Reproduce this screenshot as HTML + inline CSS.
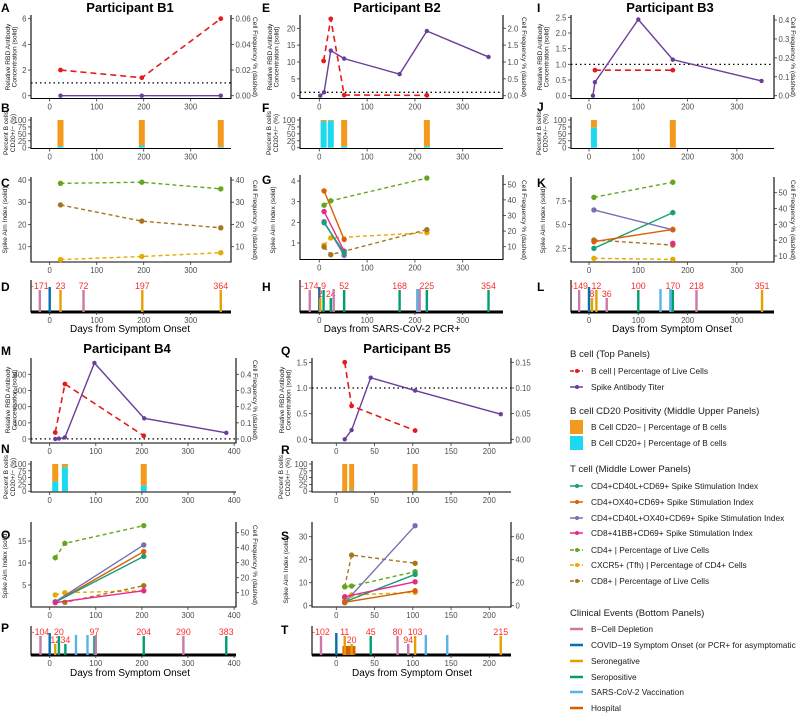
<!DOCTYPE html>
<html><head><meta charset="utf-8"><style>
html,body{margin:0;padding:0;background:#fff}
svg{display:block;font-family:"Liberation Sans",sans-serif}
</style></head><body>
<svg id="chart" width="796" height="713" xmlns="http://www.w3.org/2000/svg">
<rect width="796" height="713" fill="#fff"/>
<g font-size="8.3" fill="#1a1a1a">
<text x="570" y="357" font-size="9.6">B cell (Top Panels)</text>
<g><line x1="570" y1="371" x2="583" y2="371" stroke="#e41a1c" stroke-width="1.5" stroke-dasharray="4,2"/><circle cx="577" cy="371" r="2" fill="#e41a1c"/><text x="591" y="374">B cell | Percentage of Live Cells</text></g>
<g><line x1="570" y1="387" x2="583" y2="387" stroke="#6a3d9a" stroke-width="1.5"/><circle cx="577" cy="387" r="2" fill="#6a3d9a"/><text x="591" y="390">Spike Antibody Titer</text></g>
<text x="570" y="414" font-size="9.6">B cell CD20 Positivity (Middle Upper Panels)</text>
<g><rect x="570" y="420" width="13" height="14" fill="#f39a1e"/><text x="591" y="430">B Cell CD20− | Percentage of B cells</text></g>
<g><rect x="570" y="436" width="13" height="14" fill="#1ed8f0"/><text x="591" y="446">B Cell CD20+ | Percentage of B cells</text></g>
<text x="570" y="472" font-size="9.6">T cell (Middle Lower Panels)</text>
<g><line x1="570" y1="486" x2="583" y2="486" stroke="#1b9e77" stroke-width="1.5"/><circle cx="577" cy="486" r="2" fill="#1b9e77"/><text x="591" y="489">CD4+CD40L+CD69+ Spike Stimulation Index</text></g>
<g><line x1="570" y1="502" x2="583" y2="502" stroke="#d95f02" stroke-width="1.5"/><circle cx="577" cy="502" r="2" fill="#d95f02"/><text x="591" y="505">CD4+OX40+CD69+ Spike Stimulation Index</text></g>
<g><line x1="570" y1="518" x2="583" y2="518" stroke="#7570b3" stroke-width="1.5"/><circle cx="577" cy="518" r="2" fill="#7570b3"/><text x="591" y="521">CD4+CD40L+OX40+CD69+ Spike Stimulation Index</text></g>
<g><line x1="570" y1="533" x2="583" y2="533" stroke="#e7298a" stroke-width="1.5"/><circle cx="577" cy="533" r="2" fill="#e7298a"/><text x="591" y="536">CD8+41BB+CD69+ Spike Stimulation Index</text></g>
<g><line x1="570" y1="550" x2="583" y2="550" stroke="#66a61e" stroke-width="1.5" stroke-dasharray="4,2"/><circle cx="577" cy="550" r="2" fill="#66a61e"/><text x="591" y="553">CD4+ | Percentage of Live Cells</text></g>
<g><line x1="570" y1="565" x2="583" y2="565" stroke="#e6ab02" stroke-width="1.5" stroke-dasharray="4,2"/><circle cx="577" cy="565" r="2" fill="#e6ab02"/><text x="591" y="568">CXCR5+ (Tfh) | Percentage of CD4+ Cells</text></g>
<g><line x1="570" y1="581" x2="583" y2="581" stroke="#a6761d" stroke-width="1.5" stroke-dasharray="4,2"/><circle cx="577" cy="581" r="2" fill="#a6761d"/><text x="591" y="584">CD8+ | Percentage of Live Cells</text></g>
<text x="570" y="616" font-size="9.6">Clinical Events (Bottom Panels)</text>
<g><line x1="570" y1="629" x2="583" y2="629" stroke="#cc79a7" stroke-width="2.5"/><text x="591" y="632">B−Cell Depletion</text></g>
<g><line x1="570" y1="645" x2="583" y2="645" stroke="#0072b2" stroke-width="2.5"/><text x="591" y="648">COVID−19 Symptom Onset (or PCR+ for asymptomatic)</text></g>
<g><line x1="570" y1="661" x2="583" y2="661" stroke="#e69f00" stroke-width="2.5"/><text x="591" y="664">Seronegative</text></g>
<g><line x1="570" y1="677" x2="583" y2="677" stroke="#009e73" stroke-width="2.5"/><text x="591" y="680">Seropositive</text></g>
<g><line x1="570" y1="692" x2="583" y2="692" stroke="#56b4e9" stroke-width="2.5"/><text x="591" y="695">SARS-CoV-2 Vaccination</text></g>
<g><line x1="570" y1="708" x2="583" y2="708" stroke="#d55e00" stroke-width="2.5"/><text x="591" y="711">Hospital</text></g>
</g>
</svg>
<script>
// ===== DATA =====
// Participant B1
const b1RedDays=[23,196,364], b1RedVals=[0.02,0.014,0.06];
const b1TiterDays=[23,196,364], b1TiterVals=[0,0,0];
const b1BarDays=[23,196,364], b1Cd20Pos=[5,8,3];
const b1Cd4PctDays=[23,196,364], b1Cd4Pct=[38.5,39,36];
const b1Cd8PctDays=[23,196,364], b1Cd8Pct=[28.8,21.5,18.5];
const b1Cxcr5Days=[23,196,364], b1Cxcr5=[4.2,5.6,7.3];
const b1EvDays=[-21,0,23,72,197,364];
const b1EvTypes=['dep','onset','neg','dep','neg','neg'];
const b1EvLabels=['-171','','23','72','197','364'];
// Participant B2
const b2RedDays=[9,24,52,225], b2RedVals=[1.03,2.28,0.02,0.01];
const b2TiterDays=[2,10,24,52,168,225,354], b2TiterVals=[0,1,13.4,11,6.4,19.2,11.5];
const b2BarDays=[9,24,52,225], b2Cd20Pos=[95,97,5,5];
const b2Ox40Days=[10,52], b2Ox40=[3.52,1.17];
const b2Cd8bbDays=[10,52], b2Cd8bb=[2.52,0.61];
const b2BothDays=[10,52], b2Both=[2.03,0.4];
const b2Cd40lDays=[10,52], b2Cd40l=[1.98,0.53];
const b2Cd4PctDays=[10,24,225], b2Cd4Pct=[36.6,39.4,54];
const b2Cxcr5Days=[10,24,225], b2Cxcr5=[11,15.6,19];
const b2Cd8PctDays=[10,24,225], b2Cd8Pct=[9.8,4.9,20.9];
const b2EvDays=[-20,0,2,9,24,30,52,168,205,210,225,354];
const b2EvTypes=['dep','onset','neg','pos','pos','dep','pos','pos','vac','dep','pos','pos'];
const b2EvLabels=['-174','','2','9','24','','52','168','','','225','354'];
// Participant B3
const b3RedDays=[12,170], b3RedVals=[0.135,0.135];
const b3TiterDays=[8,12,100,170,350], b3TiterVals=[0,0.43,2.43,1.15,0.47];
const b3BarDays=[10,170], b3Cd20Pos=[72,0];
const b3BothDays=[10,170], b3Both=[6.55,4.45];
const b3Cd40lDays=[10,170], b3Cd40l=[2.5,6.27];
const b3Ox40Days=[10,170], b3Ox40=[3.2,4.5];
const b3Cd8bbDays=[170], b3Cd8bb=[3.03];
const b3Cd4PctDays=[10,170], b3Cd4Pct=[47.1,56.6];
const b3Cd8PctDays=[10,170], b3Cd8Pct=[20.1,16.9];
const b3Cxcr5Days=[10,170], b3Cxcr5=[8.5,7.9];
const b3EvDays=[-20,0,6,15,36,100,145,165,170,218,351];
const b3EvTypes=['dep','onset','neg','neg','dep','pos','vac','vac','pos','dep','neg'];
const b3EvLabels=['-149','','8','12','36','100','','','170','218','351'];
// Participant B4
const b4RedDays=[12,33,204], b4RedVals=[0.04,0.34,0.02];
const b4TiterDays=[12,20,33,97,205,383], b4TiterVals=[0,3,10,470,128,38];
const b4BarDays=[12,33,204], b4Cd20Pos=[35,88,20];
const b4BothDays=[12,204], b4Both=[1.2,14.1];
const b4Ox40Days=[12,204], b4Ox40=[1.1,12.6];
const b4Cd40lDays=[12,204], b4Cd40l=[1.1,11.5];
const b4Cd8bbDays=[12,204], b4Cd8bb=[1.0,3.7];
const b4Cd4PctDays=[12,33,204], b4Cd4Pct=[33.3,42.9,54.7];
const b4Cxcr5Days=[12,33,204], b4Cxcr5=[8.5,10,11.3];
const b4Cd8PctDays=[12,33,204], b4Cd8Pct=[3.6,3.6,14.7];
const b4EvDays=[-20,0,12,20,34,57,82,97,100,204,290,383];
const b4EvTypes=['dep','onset','neg','pos','pos','vac','vac','pos','dep','pos','dep','pos'];
const b4EvLabels=['-104','','12','20','34','','','97','','204','290','383'];
// Participant B5
const b5RedDays=[11,20,103], b5RedVals=[0.15,0.065,0.017];
const b5TiterDays=[11,20,45,103,215], b5TiterVals=[0,0.18,1.2,0.95,0.49];
const b5BarDays=[11,20,103], b5Cd20Pos=[0,3,2];
const b5BothDays=[11,103], b5Both=[1.3,34.8];
const b5Cd40lDays=[11,103], b5Cd40l=[1.7,13.6];
const b5Cd8bbDays=[11,103], b5Cd8bb=[3.9,10.4];
const b5Ox40Days=[11,103], b5Ox40=[1.5,6.5];
const b5Cd8PctDays=[11,20,103], b5Cd8Pct=[16.5,44,36.9];
const b5Cd4PctDays=[11,20,103], b5Cd4Pct=[16.5,17.1,29.6];
const b5Cxcr5Days=[11,20,103], b5Cxcr5=[6.4,9.3,11.6];
const b5EvDays=[-20,0,11,20,45,80,94,103,117,145,215];
const b5EvTypes=['dep','onset','neg','neg','pos','dep','dep','neg','vac','vac','neg'];
const b5EvLabels=['-102','','11','20','45','80','94','103','','','215'];
const b5HospStart=[8], b5HospEnd=[25];
// Tick values
const xTicks300=[0,100,200,300], xTicks400=[0,100,200,300,400], xTicks200=[0,50,100,150,200];
const barTicks=[0,25,50,75,100];

// ===== DRAWING =====
const NS='http://www.w3.org/2000/svg';
const svg=document.getElementById('chart');
const C={red:'#e41a1c',purple:'#6a3d9a',neg:'#f39a1e',pos:'#1ed8f0',cd40l:'#1b9e77',ox40:'#d95f02',both:'#7570b3',cd8bb:'#e7298a',cd4pct:'#66a61e',cxcr5:'#e6ab02',cd8pct:'#a6761d'};
const EV={dep:'#cc79a7',onset:'#0072b2',neg:'#e69f00',pos:'#009e73',vac:'#56b4e9',hosp:'#d55e00'};
function mk(tag,attrs,parent){const e=document.createElementNS(NS,tag);for(const k in attrs)e.setAttribute(k,attrs[k]);(parent||svg).appendChild(e);return e;}
function lin(v0,p0,v1,p1){return v=>p0+(v-v0)*(p1-p0)/(v1-v0);}
function txt(s,attrs,parent,name){const t=mk('text',attrs,parent);t.textContent=s;


return t;}

function axes(pre,col,y0,y1,yL,tL,fmtL,yR,tR,fmtR,thick){
  const g=mk('g',{});
  
  
  mk('line',{x1:col.L,y1:y0,x2:col.L,y2:y1+0.5,stroke:'#000','stroke-width':1.1},g);
  mk('line',{x1:col.L,y1:y1,x2:col.R,y2:y1,stroke:'#000','stroke-width':thick||1.1},g);
  for(const t of col.ticks){const x=col.o+t*col.k;
    mk('line',{x1:x,y1:y1,x2:x,y2:y1+3,stroke:'#333','stroke-width':0.8},g);
    txt(String(t),{x:x,y:y1+11,'text-anchor':'middle','font-size':7.8,fill:'#4d4d4d'},g,pre+'-x-tick-label');}
  if(yL){for(const t of tL){const y=yL(t);
    mk('line',{x1:col.L-3,y1:y,x2:col.L,y2:y,stroke:'#333','stroke-width':0.8},g);
    txt(fmtL(t),{x:col.L-4.5,y:y+3,'text-anchor':'end','font-size':7.8,fill:'#4d4d4d'},g,pre+'-y-tick-label');}}
  if(yR){mk('line',{x1:col.R,y1:y0,x2:col.R,y2:y1+0.5,stroke:'#000','stroke-width':1.1},g);
    for(const t of tR){const y=yR(t);
      mk('line',{x1:col.R,y1:y,x2:col.R+3,y2:y,stroke:'#333','stroke-width':0.8},g);
      txt(fmtR(t),{x:col.R+4.5,y:y+3,'font-size':7.8,fill:'#4d4d4d'},g,pre+'-y2-tick-label');}}
}
function series(pre,col,ys,days,vals,color,dash,w,r){
  const g=mk('g',{});
  
  
  const pts=days.map((d,i)=>[col.o+d*col.k,ys(vals[i])]);
  if(pts.length>1){const p=mk('polyline',{points:pts.map(p=>p.join(',')).join(' '),fill:'none',stroke:color,'stroke-width':w},g);
    if(dash)p.setAttribute('stroke-dasharray',dash);}
  for(const p of pts){const c=mk('circle',{cx:p[0],cy:p[1],r:r,fill:color},g);
    
    }
}
function vtitle(s,x,y,rot,name,size){txt(s,{transform:`translate(${x},${y}) rotate(${rot})`,'text-anchor':'middle','font-size':size||6.6,fill:'#1a1a1a'},svg,name);}
const f0=v=>String(v), f1=v=>v.toFixed(1), f2=v=>v.toFixed(2);

function topPanel(pre,col,y0,y1,yL,tL,fL,yR,tR,fR,rd,rv,td,tv){
  axes(pre,col,y0,y1,yL,tL,fL,yR,tR,fR);
  const dl=mk('line',{x1:col.L,y1:yL(1),x2:col.R,y2:yL(1),stroke:'#000','stroke-width':1.3,'stroke-dasharray':'1.5,3'});
  
  
  series(pre+'-spike-titer',col,yL,td,tv,C.purple,null,1.4,2.2);
  series(pre+'-b-cell-pct',col,yR,rd,rv,C.red,'6,4',1.6,2.4);
}
function barPanel(pre,col,y0,y1,days,pos,bw){
  const ys=lin(0,y1-0.8,100,y0+3);
  axes(pre,col,y0,y1,ys,barTicks,f0);
  days.forEach((d,i)=>{const x=col.o+d*col.k;
    const a=mk('rect',{x:x-bw/2,y:ys(100),width:bw,height:ys(pos[i])-ys(100),fill:C.neg});
    
    
    const b=mk('rect',{x:x-bw/2,y:ys(pos[i]),width:bw,height:ys(0)-ys(pos[i]),fill:C.pos});
    
    });
}
function tPanel(pre,col,y0,y1,yL,tL,fL,yR,tR,fR,solid,dashed){
  axes(pre,col,y0,y1,yL,tL,fL,yR,tR,fR);
  for(const s of dashed)series(pre+'-'+s[0],col,yR,s[1],s[2],C[s[0]],'4,3',1.4,2.7);
  for(const s of solid)series(pre+'-'+s[0],col,yL,s[1],s[2],C[s[0]],null,1.4,2.7);
}
function evPanel(pre,col,y0,y1,days,types,labels,hs,he){
  axes(pre,col,y0,y1,null,null,null,null,null,null,3);
  let lastX=-999,lastLow=false;
  if(hs){hs.forEach((s,i)=>{const r=mk('rect',{x:col.o+s*col.k,y:y1-9,width:(he[i]-s)*col.k,height:9,fill:EV.hosp});
    
    });}
  days.forEach((d,i)=>{const x=col.o+d*col.k;let ly=y0+9;
    if(labels[i]){ if(x-lastX<15&&!lastLow){ly=y0+17;lastLow=true;}else lastLow=false; lastX=x;}
    const top=labels[i]?ly+1:(types[i]==='onset'?y0+7:y0+9);
    const b=mk('line',{x1:x,y1:top,x2:x,y2:y1,stroke:EV[types[i]],'stroke-width':2.4});
    
    
    if(labels[i])txt(labels[i],{x:x,y:ly,'text-anchor':'middle','font-size':8.8,fill:'#ff2a2a'},svg,pre+'-event-label');
  });
}

const cols={
 c1:{L:31,R:231,o:49.7,k:0.47,ticks:xTicks300},
 c2:{L:300,R:503,o:319.3,k:0.478,ticks:xTicks300},
 c3:{L:571,R:774,o:589,k:0.493,ticks:xTicks300},
 c4:{L:31,R:236,o:49.7,k:0.461,ticks:xTicks400},
 c5:{L:312,R:511,o:336.3,k:0.765,ticks:xTicks200}};

// B1
topPanel('panel-a',cols.c1,15,98.5,lin(0,95.7,6,18.7),[0,2,4,6],f0,lin(0,95.7,0.06,18.7),[0,0.02,0.04,0.06],f2,b1RedDays,b1RedVals,b1TiterDays,b1TiterVals);
barPanel('panel-b',cols.c1,117,148.5,b1BarDays,b1Cd20Pos,6);
tPanel('panel-c',cols.c1,177,262,lin(10,246.7,40,180),[10,20,30,40],f0,lin(10,246.7,40,180),[10,20,30,40],f0,[],
 [['cd4pct',b1Cd4PctDays,b1Cd4Pct],['cd8pct',b1Cd8PctDays,b1Cd8Pct],['cxcr5',b1Cxcr5Days,b1Cxcr5]]);
evPanel('panel-d',cols.c1,280,312,b1EvDays,b1EvTypes,b1EvLabels);
// B2
topPanel('panel-e',cols.c2,15,98.5,lin(0,95.7,20,28.3),[0,5,10,15,20],f0,lin(0,95.7,2,28.3),[0,0.5,1,1.5,2],f1,b2RedDays,b2RedVals,b2TiterDays,b2TiterVals);
barPanel('panel-f',cols.c2,117,148.5,b2BarDays,b2Cd20Pos,6);
tPanel('panel-g',cols.c2,175,259.5,lin(1,243,4,181),[1,2,3,4],f0,lin(10,246.7,50,184.3),[10,20,30,40,50],f0,
 [['ox40',b2Ox40Days,b2Ox40],['cd8bb',b2Cd8bbDays,b2Cd8bb],['both',b2BothDays,b2Both],['cd40l',b2Cd40lDays,b2Cd40l]],
 [['cd4pct',b2Cd4PctDays,b2Cd4Pct],['cxcr5',b2Cxcr5Days,b2Cxcr5],['cd8pct',b2Cd8PctDays,b2Cd8Pct]]);
evPanel('panel-h',cols.c2,280,312,b2EvDays,b2EvTypes,b2EvLabels);
// B3
topPanel('panel-i',cols.c3,15,98.5,lin(0,95.7,2.5,17.3),[0,0.5,1,1.5,2,2.5],f1,lin(0,95.7,0.4,20),[0,0.1,0.2,0.3,0.4],f1,b3RedDays,b3RedVals,b3TiterDays,b3TiterVals);
barPanel('panel-j',cols.c3,117,148.5,b3BarDays,b3Cd20Pos,6);
tPanel('panel-k',cols.c3,177,262,lin(2.5,248.3,7.5,201),[2.5,5,7.5],f1,lin(10,256,50,192.7),[10,20,30,40,50],f0,
 [['both',b3BothDays,b3Both],['cd40l',b3Cd40lDays,b3Cd40l],['ox40',b3Ox40Days,b3Ox40],['cd8bb',b3Cd8bbDays,b3Cd8bb]],
 [['cd4pct',b3Cd4PctDays,b3Cd4Pct],['cd8pct',b3Cd8PctDays,b3Cd8Pct],['cxcr5',b3Cxcr5Days,b3Cxcr5]]);
evPanel('panel-l',cols.c3,280,312,b3EvDays,b3EvTypes,b3EvLabels);
// B4
topPanel('panel-m',cols.c4,358,443,lin(0,439,400,374.3),[0,100,200,300,400],f0,lin(0,439,0.4,374.3),[0,0.1,0.2,0.3,0.4],f1,b4RedDays,b4RedVals,b4TiterDays,b4TiterVals);
barPanel('panel-n',cols.c4,461,492,b4BarDays,b4Cd20Pos,6);
tPanel('panel-o',cols.c4,522,607,lin(5,585,15,541),[5,10,15],f0,lin(10,592.7,50,532.7),[10,20,30,40,50],f0,
 [['both',b4BothDays,b4Both],['ox40',b4Ox40Days,b4Ox40],['cd40l',b4Cd40lDays,b4Cd40l],['cd8bb',b4Cd8bbDays,b4Cd8bb]],
 [['cd4pct',b4Cd4PctDays,b4Cd4Pct],['cxcr5',b4Cxcr5Days,b4Cxcr5],['cd8pct',b4Cd8PctDays,b4Cd8Pct]]);
evPanel('panel-p',cols.c4,626,655,b4EvDays,b4EvTypes,b4EvLabels);
// B5
topPanel('panel-q',cols.c5,358,443,lin(0,439.3,1.5,362.3),[0,0.5,1,1.5],f1,lin(0,439.3,0.15,362.3),[0,0.05,0.1,0.15],f2,b5RedDays,b5RedVals,b5TiterDays,b5TiterVals);
barPanel('panel-r',cols.c5,461,492,b5BarDays,b5Cd20Pos,5);
tPanel('panel-s',cols.c5,522,607,lin(0,605.7,30,536.7),[0,10,20,30],f0,lin(0,605.7,60,536.7),[0,20,40,60],f0,
 [['both',b5BothDays,b5Both],['cd40l',b5Cd40lDays,b5Cd40l],['cd8bb',b5Cd8bbDays,b5Cd8bb],['ox40',b5Ox40Days,b5Ox40]],
 [['cd8pct',b5Cd8PctDays,b5Cd8Pct],['cd4pct',b5Cd4PctDays,b5Cd4Pct],['cxcr5',b5Cxcr5Days,b5Cxcr5]]);
evPanel('panel-t',cols.c5,626,655,b5EvDays,b5EvTypes,b5EvLabels,b5HospStart,b5HospEnd);

// Titles, letters, axis titles
const T={'font-weight':'bold','font-size':13,'text-anchor':'middle',fill:'#000'};
txt('Participant B1',Object.assign({x:130,y:12},T),svg,'title-b1');
txt('Participant B2',Object.assign({x:397,y:12},T),svg,'title-b2');
txt('Participant B3',Object.assign({x:670,y:12},T),svg,'title-b3');
txt('Participant B4',Object.assign({x:127,y:353},T),svg,'title-b4');
txt('Participant B5',Object.assign({x:407,y:353},T),svg,'title-b5');
const letters=[['A',1,12],['B',1,112],['C',1,187],['D',1,291],['E',262,12],['F',262,112],['G',262,184],['H',262,291],
 ['I',537,12],['J',537,111],['K',537,187],['L',537,291],['M',1,355],['N',1,453],['O',1,539],['P',1,632],
 ['Q',281,355],['R',281,454],['S',281,540],['T',281,634]];
for(const l of letters)txt(l[0],{x:l[1],y:l[2],'font-weight':'bold','font-size':12,fill:'#000'},svg,'panel-letter-'+l[0].toLowerCase());
const ax=[[10,16.5],[272,278.5],[542,548.5],[10,16.5],[284,290.5]];
const rowY=[[57,133,220,328],[57,133,220,328],[57,133,220,328],[400,477,565,676],[400,477,570,676]];
const bx=[[8,15],[271,278],[541,547.5],[8,15],[283,290]];
const tx=[7,275,545,7,288];
const rx=[253,522,791,253,null];
const xc=[130,392,672,130,412];
const xt=['Days from Symptom Onset','Days from SARS-CoV-2 PCR+','Days from Symptom Onset','Days from Symptom Onset','Days from Symptom Onset'];
for(let i=0;i<5;i++){
  vtitle('Relative RBD Antibody',ax[i][0],rowY[i][0],-90,'y-axis-title-rbd');
  vtitle('Concentration (solid)',ax[i][1],rowY[i][0],-90,'y-axis-title-rbd');
  vtitle('Percent B cells',bx[i][0],rowY[i][1],-90,'y-axis-title-percent-b');
  vtitle('CD20+/− (%)',bx[i][1],rowY[i][1],-90,'y-axis-title-percent-b');
  vtitle('Spike Aim Index (solid)',tx[i],rowY[i][2],-90,'y-axis-title-aim');
  if(rx[i]){vtitle('Cell Frequency % (dashed)',rx[i],rowY[i][0],90,'y2-axis-title-freq');
    vtitle('Cell Frequency % (dashed)',rx[i],rowY[i][2],90,'y2-axis-title-freq');}
  txt(xt[i],{x:xc[i],y:rowY[i][3]+(i<3?4:0),'text-anchor':'middle','font-size':10,fill:'#000'},svg,'x-axis-title');
}
</script>
</body></html>
